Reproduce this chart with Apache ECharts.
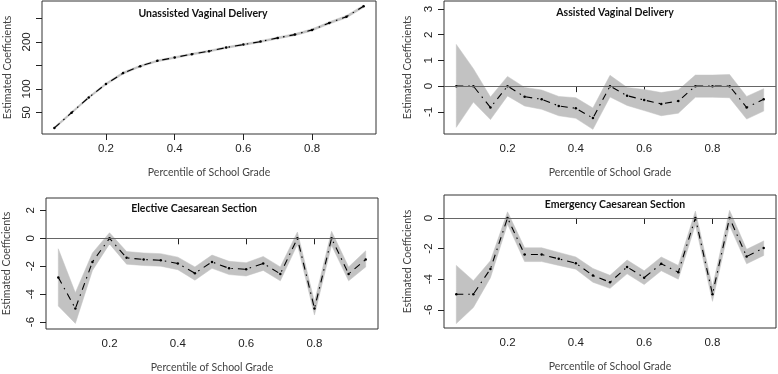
<!DOCTYPE html>
<html><head><meta charset="utf-8">
<script src="https://cdn.jsdelivr.net/npm/echarts@6/dist/echarts.min.js"></script>
<style>html,body{margin:0;padding:0;background:#fff}#c{width:778px;height:374px}</style>
</head><body><div id="c"></div>
<script>
const percentiles = [0.05,0.10,0.15,0.20,0.25,0.30,0.35,0.40,0.45,0.50,0.55,0.60,0.65,0.70,0.75,0.80,0.85,0.90,0.95];
const xTickValues = [0.2,0.4,0.6,0.8];

const titles = ['Unassisted Vaginal Delivery','Assisted Vaginal Delivery','Elective Caesarean Section','Emergency Caesarean Section'];

const unassistedEst = [16.9,49.4,81.8,110.2,133.6,148.4,159.7,166.7,173.9,180.3,187.9,194.3,200.6,208.5,215.5,225.5,240.3,253.7,275.7];
const unassistedLow = [14.5,47.2,79.6,108.0,131.4,146.4,157.8,164.8,172.0,178.4,186.0,192.4,198.6,206.4,213.3,223.2,237.8,251.0,273.0];
const unassistedHigh = [19.3,51.6,84.0,112.4,135.8,150.4,161.6,168.6,175.8,182.2,189.8,196.2,202.6,210.6,217.7,227.8,242.8,256.4,278.4];

const assistedEst = [0,0,-0.83,0,-0.41,-0.51,-0.77,-0.86,-1.24,0,-0.37,-0.54,-0.69,-0.58,0,0,0,-0.83,-0.51];
const assistedLow = [-1.6,-0.62,-1.3,-0.38,-0.77,-0.9,-1.15,-1.25,-1.68,-0.42,-0.75,-0.95,-1.15,-1.05,-0.43,-0.43,-0.45,-1.28,-0.97];
const assistedHigh = [1.62,0.68,-0.42,0.38,-0.05,-0.15,-0.4,-0.45,-0.85,0.42,-0.05,-0.13,-0.25,-0.15,0.43,0.43,0.45,-0.4,-0.1];

const electiveEst = [-2.8,-5.03,-1.69,0,-1.4,-1.52,-1.57,-1.8,-2.5,-1.69,-2.15,-2.22,-1.8,-2.55,0,-5.03,0,-2.55,-1.52];
const electiveLow = [-4.85,-6.1,-2.3,-0.4,-1.85,-1.95,-2.0,-2.25,-3.0,-2.15,-2.6,-2.7,-2.3,-3.05,-0.45,-5.5,-0.5,-3.05,-2.05];
const electiveHigh = [-0.75,-3.9,-1.05,0.4,-0.95,-1.05,-1.1,-1.35,-2.05,-1.2,-1.65,-1.75,-1.3,-2.05,0.45,-4.55,0.5,-2.05,-0.9];

const emergencyEst = [-4.98,-4.98,-3.33,0,-2.39,-2.39,-2.67,-2.96,-3.76,-4.2,-3.2,-3.9,-3.0,-3.54,0,-4.98,0,-2.52,-1.96];
const emergencyLow = [-6.9,-5.85,-3.9,-0.4,-2.85,-2.85,-3.1,-3.35,-4.2,-4.6,-3.65,-4.35,-3.45,-4.0,-0.45,-5.45,-0.5,-3.0,-2.45];
const emergencyHigh = [-3.1,-4.1,-2.8,0.4,-1.95,-1.95,-2.25,-2.55,-3.3,-3.75,-2.75,-3.45,-2.55,-3.1,0.45,-4.5,0.5,-2.05,-1.5];

const yRanges = [[4,287],[-1.86,3.31],[-6.5,2.89],[-7.19,1.5]];
const yTicks = [[50,100,150,200,250],[-1,0,1,2,3],[-6,-4,-2,0,2],[-6,-4,-2,0]];
const yLabels = [[50,100,200],[-1,0,1,2,3],[-6,-4,-2,0,2],[-6,-4,-2,0]];

const panels = [
  {est:unassistedEst, low:unassistedLow, high:unassistedHigh, zero:false},
  {est:assistedEst, low:assistedLow, high:assistedHigh, zero:true},
  {est:electiveEst, low:electiveLow, high:electiveHigh, zero:true},
  {est:emergencyEst, low:emergencyLow, high:emergencyHigh, zero:true}
];

const grids = [
  {left:42, top:1, width:334, height:133},
  {left:444, top:1, width:332, height:133},
  {left:45, top:198, width:333, height:133},
  {left:444, top:195, width:332, height:133}
];
const titlePos = [[203,14],[615,13],[194,209],[615,205]];

const axisFont = 'Liberation Sans';
const textFont = 'Lato';

const option = {
  animation:false,
  backgroundColor:'#fff',
  grid: grids.map(g=>Object.assign({show:true, borderColor:'#333', borderWidth:1, backgroundColor:'transparent'}, g)),
  xAxis: grids.map((g,i)=>({
    type:'value', gridIndex:i, min:0.014, max:0.986,
    splitLine:{show:false},
    axisLine:{show:false},
    axisTick:{show:true, inside:false, length:6, customValues:xTickValues, lineStyle:{color:'#222'}},
    axisLabel:{show:true, customValues:xTickValues, margin:9, fontFamily:axisFont, fontSize:11.5, color:'#222', formatter:v=>String(v)},
    name:'Percentile of School Grade', nameLocation:'middle', nameGap:33,
    nameTextStyle:{fontFamily:textFont, fontSize:10.5, color:'#444'}
  })),
  yAxis: grids.map((g,i)=>({
    type:'value', gridIndex:i, min:yRanges[i][0], max:yRanges[i][1],
    splitLine:{show:false},
    axisLine:{show:false},
    axisTick:{show:true, inside:false, length:6, customValues:yTicks[i], lineStyle:{color:'#222'}},
    axisLabel:{show:true, customValues:yLabels[i], rotate:90, margin:9, fontFamily:axisFont, fontSize:11.5, color:'#222'},
    name:'Estimated Coefficients', nameLocation:'middle', nameGap: (i===0?29:(i===2?34:31)), nameRotate:90,
    nameTextStyle:{fontFamily:textFont, fontSize:10.5, color:'#444'}
  })),
  graphic: titles.map((t,i)=>({
    type:'text', x:titlePos[i][0], y:titlePos[i][1], z:100,
    style:{text:t, font:'bold 10.5px Lato', fill:'#111', textAlign:'center', textVerticalAlign:'middle'}
  })),
  series: []
};

panels.forEach((p,i)=>{
  const bandData = percentiles.map((x,k)=>[x, p.low[k], p.high[k]]);
  option.series.push({
    type:'custom', xAxisIndex:i, yAxisIndex:i, z:1, silent:true,
    data: bandData,
    encode:{x:0, y:[1,2]},
    renderItem:(params, api)=>{
      if (params.dataIndex !== 0) return null;
      const upper = bandData.map(d=>api.coord([d[0], d[2]]));
      const lower = bandData.map(d=>api.coord([d[0], d[1]])).reverse();
      return {type:'polygon', shape:{points:upper.concat(lower)}, style:{fill:'#c2c2c2', stroke:'#c2c2c2', lineWidth:0.5}};
    }
  });
  const lineSeries = {
    type:'line', xAxisIndex:i, yAxisIndex:i, z:3,
    data: percentiles.map((x,k)=>[x, p.est[k]]),
    symbol:'circle', symbolSize:2.5, showSymbol:true,
    itemStyle:{color:'#000'},
    lineStyle:{color:'#000', width:1.1, type:[7,5,1.5,5]}
  };
  if (p.zero) {
    lineSeries.markLine = {silent:true, symbol:'none', label:{show:false},
      lineStyle:{color:'#666', width:1, type:'solid'}, data:[{yAxis:0}]};
  }
  option.series.push(lineSeries);
});

const chart = echarts.init(document.getElementById('c'), null, {renderer:'canvas'});
chart.setOption(option);
</script>
</body></html>
